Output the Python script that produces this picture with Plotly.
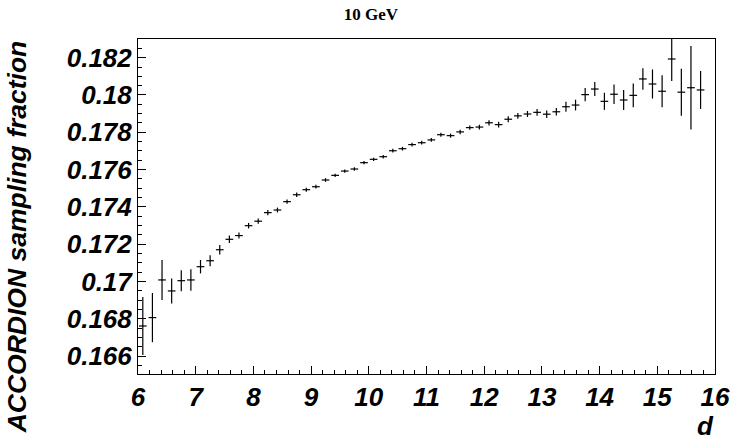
import plotly.graph_objects as go

# ---- data ----
bin_lo = 6.0
bin_width = 1.0 / 6.0
values = [0.16761, 0.16806, 0.17008, 0.16949, 0.17004, 0.17008, 0.17079, 0.17111, 0.17170, 0.17226,
          0.17246, 0.17299, 0.17323, 0.17369, 0.17383, 0.17428, 0.17465, 0.17492, 0.17508, 0.17544,
          0.17569, 0.17592, 0.17603, 0.17637, 0.17655, 0.17669, 0.17701, 0.17712, 0.17734, 0.17744,
          0.17759, 0.17787, 0.17782, 0.17802, 0.17825, 0.17828, 0.17851, 0.17841, 0.17870, 0.17888,
          0.17898, 0.17907, 0.17897, 0.17910, 0.17937, 0.17946, 0.18002, 0.18032, 0.17966, 0.18004,
          0.17973, 0.17998, 0.18086, 0.18059, 0.18020, 0.18193, 0.18015, 0.18039, 0.18027]
errors = [0.00155, 0.00132, 0.00107, 0.00067, 0.00056, 0.00058, 0.00036, 0.00030, 0.00025, 0.00020,
          0.00016, 0.00015, 0.00014, 0.00014, 0.00013, 0.00012, 0.00012, 0.00011, 0.00010, 0.00010,
          0.00009, 0.00009, 0.00009, 0.00009, 0.00009, 0.00009, 0.00010, 0.00010, 0.00010, 0.00010,
          0.00010, 0.00011, 0.00011, 0.00012, 0.00012, 0.00013, 0.00014, 0.00015, 0.00016, 0.00016,
          0.00016, 0.00018, 0.00020, 0.00020, 0.00027, 0.00029, 0.00036, 0.00038, 0.00046, 0.00052,
          0.00054, 0.00064, 0.00058, 0.00078, 0.00086, 0.00118, 0.00126, 0.00224, 0.00102]
centers = [bin_lo + bin_width * (i + 0.5) for i in range(len(values))]

x_ticks = [6, 7, 8, 9, 10, 11, 12, 13, 14, 15, 16]
x_ticktext = ["6", "7", "8", "9", "10", "11", "12", "13", "14", "15", "16"]
y_ticks = [0.166, 0.168, 0.170, 0.172, 0.174, 0.176, 0.178, 0.180, 0.182]
y_ticktext = ["0.166", "0.168", "0.17", "0.172", "0.174", "0.176", "0.178", "0.18", "0.182"]

title_text = "10 GeV"
x_title = "d"
y_title = "ACCORDION sampling fraction"

FONT = "Liberation Sans, Arial, sans-serif"
lab_font = dict(family=FONT, size=26, color="black", weight="bold", style="italic")

fig = go.Figure()
fig.add_trace(go.Scatter(
    x=centers, y=values, mode="markers",
    marker=dict(size=1, color="black"),
    error_y=dict(type="data", array=errors, visible=True, color="black", thickness=1.2, width=0),
    error_x=dict(type="constant", value=bin_width * 0.4, visible=True, color="black", thickness=1.2, width=0),
    showlegend=False, cliponaxis=True,
))

fig.update_layout(
    width=742, height=443,
    margin=dict(l=138, r=21, t=39, b=69),
    paper_bgcolor="white", plot_bgcolor="white",
    title=dict(text=title_text, x=0.5, xref="container", y=0.968, yref="container",
               xanchor="center", yanchor="middle",
               font=dict(family="Liberation Serif", size=17, color="black", weight="bold")),
    xaxis=dict(range=[6, 16], tickvals=x_ticks, ticktext=x_ticktext, ticks="inside", ticklen=8,
               tickcolor="black", tickwidth=1, showgrid=False, zeroline=False,
               showline=True, linecolor="black", linewidth=1, mirror=True,
               tickfont=lab_font,
               minor=dict(dtick=0.2, ticks="inside", ticklen=4, tickcolor="black", showgrid=False)),
    yaxis=dict(range=[0.165035, 0.183003], tickvals=y_ticks, ticktext=y_ticktext, ticks="inside", ticklen=8,
               tickcolor="black", tickwidth=1, showgrid=False, zeroline=False,
               showline=True, linecolor="black", linewidth=1, mirror=True,
               tickfont=lab_font,
               minor=dict(dtick=0.0005, tick0=0.166, ticks="inside", ticklen=4, tickcolor="black", showgrid=False)),
)

fig.add_annotation(text=x_title, xref="paper", yref="paper", x=1.0, y=-0.106,
                   xanchor="right", yanchor="top", showarrow=False, font=lab_font,
                   borderpad=0)
fig.add_annotation(text=y_title, xref="paper", yref="paper", x=-0.21, y=1.0,
                   xanchor="center", yanchor="top", textangle=-90, showarrow=False,
                   borderpad=0,
                   font=dict(family=FONT, size=26.5, color="black", weight="bold", style="italic"))

fig.write_html("out.html")
